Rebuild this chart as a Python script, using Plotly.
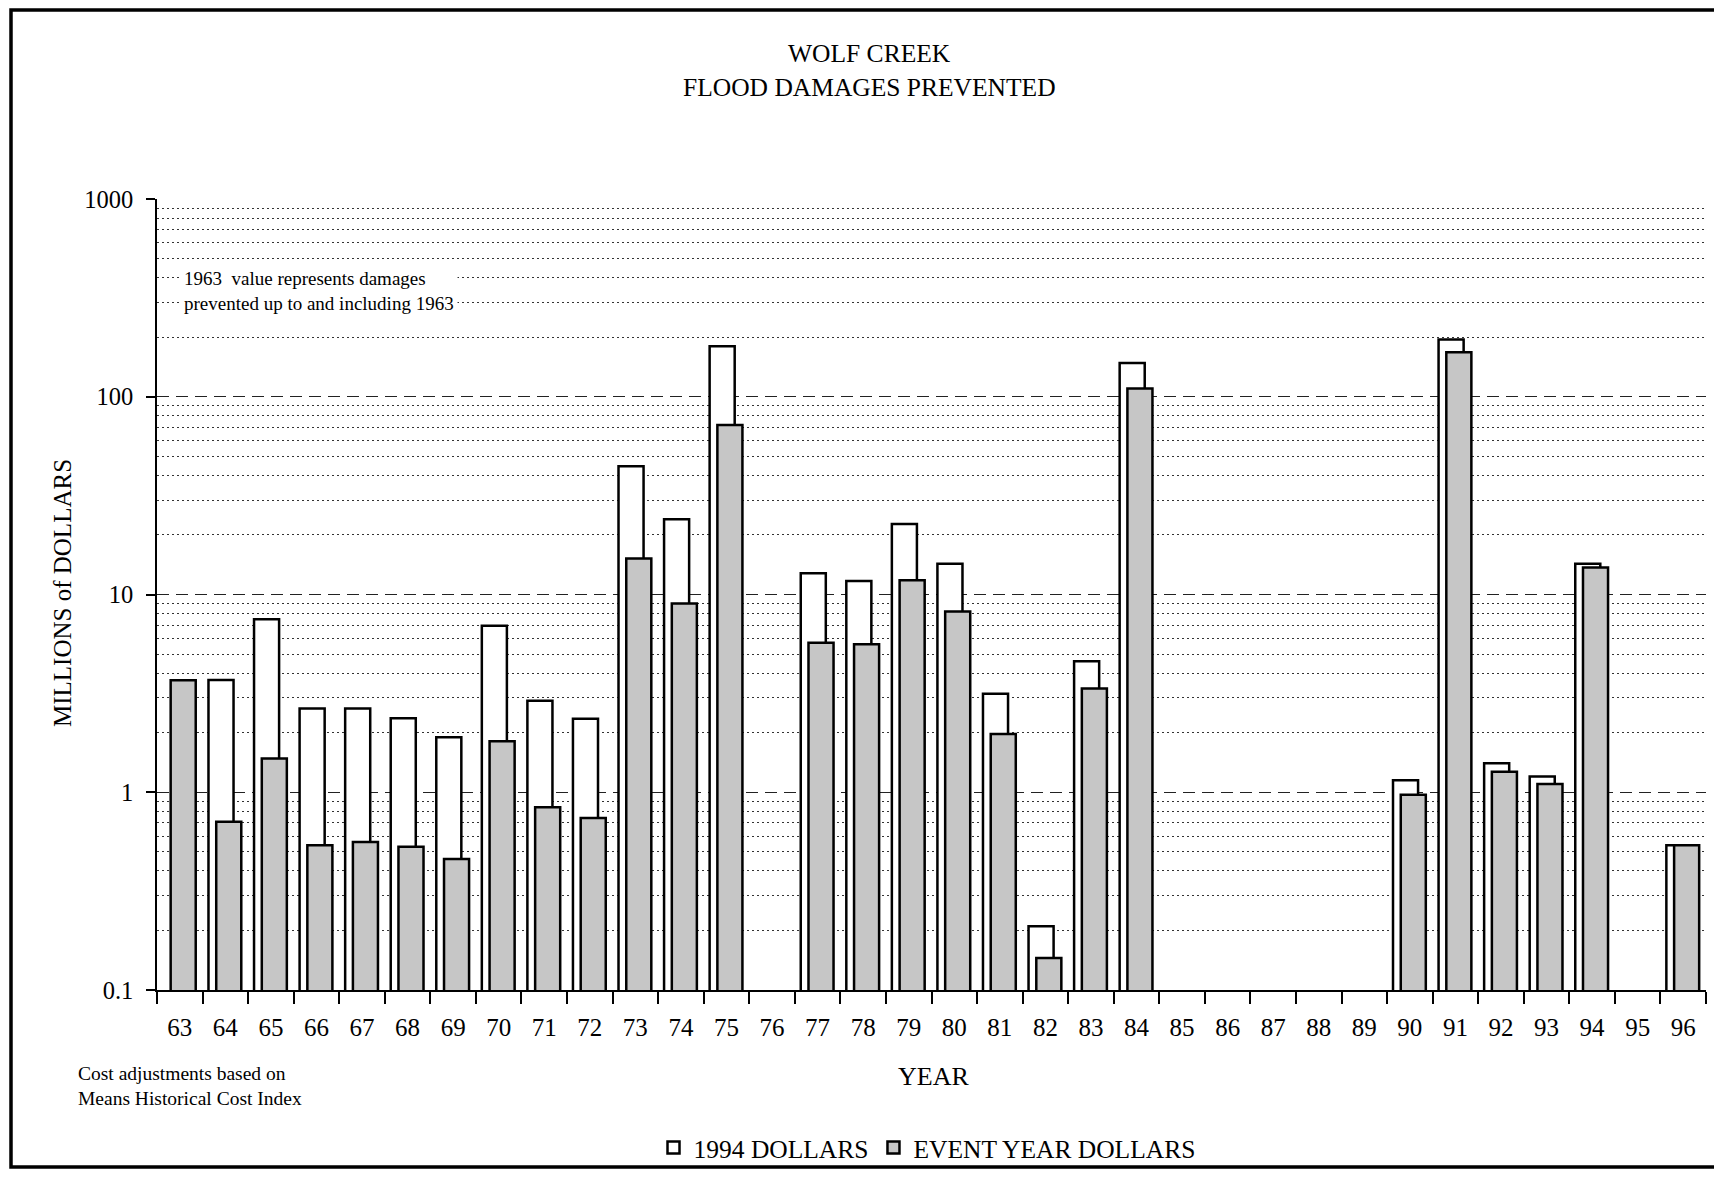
import plotly.graph_objects as go

years = ["63", "64", "65", "66", "67", "68", "69", "70", "71", "72", "73", "74", "75", "76",
         "77", "78", "79", "80", "81", "82", "83", "84", "85", "86", "87", "88", "89",
         "90", "91", "92", "93", "94", "95", "96"]

dollars_1994 = [None, 3.7, 7.5, 2.65, 2.65, 2.37, 1.9, 6.95, 2.9, 2.35, 44.5, 24.0, 180, None,
                12.8, 11.7, 22.7, 14.3, 3.15, 0.21, 4.6, 148, None, None, None, None, None,
                1.15, 195, 1.4, 1.2, 14.3, None, 0.54]

event_year_dollars = [3.68, 0.71, 1.48, 0.54, 0.56, 0.53, 0.46, 1.81, 0.84, 0.74, 15.2, 9.0, 72, None,
                      5.7, 5.6, 11.8, 8.2, 1.97, 0.145, 3.35, 110, None, None, None, None, None,
                      0.97, 168, 1.27, 1.1, 13.7, None, 0.54]

FONT = "Liberation Serif, Times New Roman, serif"

OFF = 8  # page body margin
W, H = 1714, 1175
ML, MT = 157 - OFF, 199 - OFF
PLOT_RIGHT, PLOT_BOTTOM = 1706 - OFF, 990 - OFF
MR, MB = W - PLOT_RIGHT, H - PLOT_BOTTOM
PW = W - ML - MR
PH = H - MT - MB


def px(x):
    return (x - OFF - ML) / PW


def py(y):
    return (H - MB - (y - OFF)) / PH


fig = go.Figure()
fig.add_trace(go.Bar(
    x=years, y=dollars_1994, name="1994 DOLLARS",
    width=0.55, offset=-0.37,
    marker=dict(color="white", line=dict(color="black", width=2.5)),
))
fig.add_trace(go.Bar(
    x=years, y=event_year_dollars, name="EVENT YEAR DOLLARS",
    width=0.55, offset=-0.2,
    marker=dict(color="#c6c6c6", line=dict(color="black", width=2.5)),
))

fig.update_layout(
    width=W, height=H,
    paper_bgcolor="white", plot_bgcolor="white",
    barmode="overlay",
    margin=dict(l=ML, r=MR, t=MT, b=MB),
    font=dict(family=FONT, size=24, color="black"),
    showlegend=True,
    legend=dict(orientation="h", x=px(927), xanchor="center", y=py(1148), yanchor="middle",
                font=dict(size=25.5), itemwidth=30, traceorder="normal", bgcolor="rgba(0,0,0,0)"),
)

fig.update_xaxes(
    type="category", tickson="boundaries", ticks="outside", ticklen=12, tickwidth=1.5,
    tickcolor="black", showline=True, linecolor="black", linewidth=1.5,
    showgrid=False, tickfont=dict(size=25), ticklabelstandoff=14,
)
fig.update_yaxes(
    type="log", range=[-1, 3], dtick=1, exponentformat="none",
    ticks="outside", ticklen=9, tickwidth=1.5, tickcolor="black",
    showline=True, linecolor="black", linewidth=1.5,
    showgrid=True, gridcolor="#222222", griddash="12px,7px", gridwidth=1.2,
    minor=dict(dtick="D1", showgrid=True, gridcolor="#333333", griddash="2px,3px", gridwidth=1.1),
    tickfont=dict(size=24.5), zeroline=False, ticklabelstandoff=8,
)

ann = [
    dict(text="WOLF CREEK", x=px(869), y=py(53), size=25.5),
    dict(text="FLOOD DAMAGES PREVENTED", x=px(869), y=py(87), size=25.5),
    dict(text="YEAR", x=px(934), y=py(1076), size=26),
]
for a in ann:
    fig.add_annotation(text=a["text"], x=a["x"], y=a["y"], xref="paper", yref="paper",
                       showarrow=False, xanchor="center", yanchor="middle",
                       font=dict(family=FONT, size=a["size"], color="black"))

fig.add_annotation(text="MILLIONS of DOLLARS", x=px(62), y=py(593), xref="paper", yref="paper",
                   showarrow=False, textangle=-90, xanchor="center", yanchor="middle",
                   font=dict(family=FONT, size=25, color="black"))

fig.add_annotation(text="1963  value represents damages<br>prevented up to and including 1963",
                   x=px(180), y=py(291), xref="paper", yref="paper", showarrow=False,
                   xanchor="left", yanchor="middle", align="left", bgcolor="white", borderpad=3,
                   font=dict(family=FONT, size=19, color="black"))

fig.add_annotation(text="Cost adjustments based on<br>Means Historical Cost Index",
                   x=px(76), y=py(1086), xref="paper", yref="paper", showarrow=False,
                   xanchor="left", yanchor="middle", align="left",
                   font=dict(family=FONT, size=19.5, color="black"))

# outer frame
fig.add_shape(type="rect", xref="paper", yref="paper",
              x0=px(11), x1=px(1740), y0=py(1167), y1=py(10),
              line=dict(color="black", width=3.5), fillcolor="rgba(0,0,0,0)", layer="above")

fig.write_html("out.html")
